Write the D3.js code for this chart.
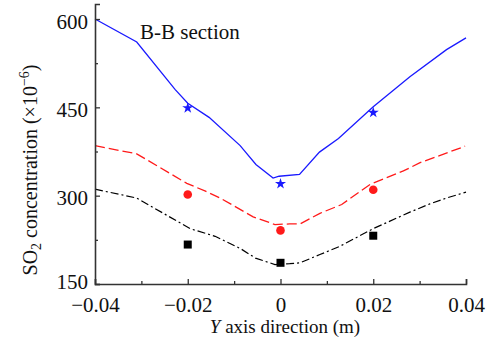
<!DOCTYPE html>
<html><head><meta charset="utf-8">
<script src="https://cdn.jsdelivr.net/npm/d3@7"></script>
<style>body{margin:0;background:#fff}svg{display:block}svg text{font-family:"Liberation Serif","DejaVu Serif",serif !important;fill:#111}</style>
</head><body><svg id="c" width="489" height="353"></svg>
<script>
// data
const blueLineX = [-0.04,-0.031,-0.0227,-0.02,-0.0154,-0.0087,-0.0053,-0.0016,-0.0003,0.0041,0.0084,0.0125,0.02,0.0279,0.0358,0.04];
const blueLineY = [600,561,480,457,433,385,353,330,333,336,374,397,451,502,548,568];
const redLineX = [-0.04,-0.031,-0.0202,-0.0163,-0.013,-0.0059,-0.0012,0.002,0.0042,0.0085,0.0132,0.0193,0.0265,0.0301,0.0398];
const redLineY = [385,371,321,308,296,264,251,252,252,270,285,319,342,356,384];
const blackLineX = [-0.04,-0.031,-0.0195,-0.0141,-0.0086,-0.0054,-0.0012,0.002,0.0042,0.0085,0.0128,0.02,0.0279,0.0322,0.0358,0.04];
const blackLineY = [311,296,244,231,210,194,183,184.5,186,200,214,244,272,286,296,306];
const markerX = [-0.02, 0, 0.02];
const starY = [449, 320, 441];
const circleY = [302, 241, 310];
const squareY = [217, 186, 232];
const xTicks = [-0.04,-0.02,0,0.02,0.04];
const xMinor = [-0.03,-0.01,0.01,0.03];
const yTicks = [150,300,450,600];
const yMinor = [225,375,525];

const FONT = "'Liberation Serif','DejaVu Serif',serif";
const svg = d3.select("#c");
const x = d3.scaleLinear().domain([-0.04,0.04]).range([95,466]);
const y = d3.scaleLinear().domain([150,625.5]).range([284,4]);

const line = d3.line().x(d=>x(d[0])).y(d=>y(d[1]));
const zip = (a,b)=>a.map((v,i)=>[v,b[i]]);

svg.append("path").attr("d",line(zip(blackLineX,blackLineY))).attr("fill","none").attr("stroke","#000").attr("stroke-width",1.2).attr("stroke-dasharray","8,3,2,3");
svg.append("path").attr("d",line(zip(redLineX,redLineY))).attr("fill","none").attr("stroke","#ff1a1a").attr("stroke-width",1.3).attr("stroke-dasharray","10,4");
svg.append("path").attr("d",line(zip(blueLineX,blueLineY))).attr("fill","none").attr("stroke","#1a1aff").attr("stroke-width",1.3);

svg.selectAll(".sq").data(zip(markerX,squareY)).enter().append("rect")
  .attr("x",d=>x(d[0])-4).attr("y",d=>y(d[1])-4).attr("width",8).attr("height",8).attr("fill","#000");
svg.selectAll(".ci").data(zip(markerX,circleY)).enter().append("circle")
  .attr("cx",d=>x(d[0])).attr("cy",d=>y(d[1])).attr("r",4.3).attr("fill","#ff1a1a");
svg.selectAll(".st").data(zip(markerX,starY)).enter().append("path")
  .attr("d",d3.symbol().type(d3.symbolStar).size(38)).attr("transform",d=>`translate(${x(d[0])},${y(d[1])})`).attr("fill","#1a1aff");

// axes
const ax = svg.append("g").attr("transform","translate(0,284)");
ax.call(d3.axisBottom(x).tickValues(xTicks).tickSize(-5).tickFormat(d=>d===0?"0":d3.format(".2f")(d).replace("-","\u2212")));
const axm = svg.append("g").attr("transform","translate(0,284)");
axm.call(d3.axisBottom(x).tickValues(xMinor).tickSize(-3).tickFormat(""));
axm.select(".domain").remove();
const ay = svg.append("g").attr("transform","translate(95,0)");
ay.call(d3.axisLeft(y).tickValues(yTicks).tickSize(-5).tickPadding(7));
const aym = svg.append("g").attr("transform","translate(95,0)");
aym.call(d3.axisLeft(y).tickValues(yMinor).tickSize(-3).tickFormat(""));
aym.select(".domain").remove();
svg.selectAll("g").attr("font-family",FONT);
svg.selectAll(".domain").attr("stroke","#333").attr("stroke-width",1.6);
svg.selectAll(".tick line").attr("stroke","#333").attr("stroke-width",1.3);
svg.selectAll(".tick text").attr("font-size",21).attr("fill","#111");
ax.selectAll(".tick text").attr("y",28).attr("dy",0);
ay.selectAll(".tick text").attr("dy",d=>d===150?"0.2em":"0.43em");

svg.append("text").attr("x",140).attr("y",39).attr("font-family",FONT).attr("font-size",21).text("B-B section");

const xt = svg.append("text").attr("x",285).attr("y",333).attr("text-anchor","middle").attr("font-family",FONT).attr("font-size",19);
xt.append("tspan").attr("font-style","italic").text("Y");
xt.append("tspan").text(" axis direction (m)");

const yt = svg.append("text").attr("transform","translate(37,170) rotate(-90)").attr("text-anchor","middle").attr("font-family",FONT).attr("font-size",20);
yt.append("tspan").text("SO");
yt.append("tspan").attr("font-size",14).attr("dy",4).text("2");
yt.append("tspan").attr("dy",-4).text(" concentration (×10");
yt.append("tspan").attr("font-size",14).attr("dy",-8).text("\u22126");
yt.append("tspan").attr("dy",8).text(")");
</script></body></html>
